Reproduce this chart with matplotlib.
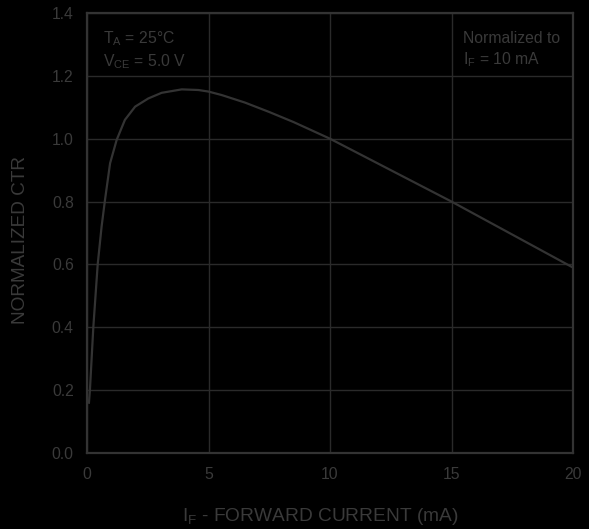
import matplotlib
matplotlib.use("Agg")
from matplotlib import pyplot as plt

# forward current (mA) and normalized CTR
current_ma = [0.08, 0.12, 0.26, 0.44, 0.6, 0.74, 0.95, 1.22, 1.56, 1.98, 2.52,
              3.07, 3.9, 4.58, 5.0, 5.54, 6.5, 7.5, 8.5, 10.0, 12.5, 15.0, 17.5, 20.0]
norm_ctr = [0.16, 0.2, 0.4, 0.6, 0.72, 0.805, 0.922, 0.996, 1.06, 1.102, 1.128,
            1.146, 1.157, 1.155, 1.15, 1.139, 1.115, 1.085, 1.053, 1.0, 0.9, 0.8, 0.695, 0.59]

x_ticks = [0, 5, 10, 15, 20]
y_ticks = [0.0, 0.2, 0.4, 0.6, 0.8, 1.0, 1.2, 1.4]

text_col = "#3a3a3a"
line_col = "#333333"
grid_col = "#2a2a2a"

plt.rcParams["font.family"] = ["Liberation Sans", "DejaVu Sans"]
plt.rcParams["mathtext.fontset"] = "custom"
plt.rcParams["mathtext.rm"] = "Liberation Sans"
plt.rcParams["mathtext.it"] = "Liberation Sans"

fig = plt.figure(figsize=(5.89, 5.29), dpi=100, facecolor="black")
ax = fig.add_axes([87 / 589, 1 - 453 / 529, 486 / 589, 440 / 529])
ax.set_facecolor("black")

ax.plot(current_ma, norm_ctr, color=line_col, linewidth=1.6)

ax.set_xlim(0, 20)
ax.set_ylim(0, 1.4)
ax.set_xticks(x_ticks)
ax.set_yticks(y_ticks)
ax.set_yticklabels(["%.1f" % v for v in y_ticks])
ax.tick_params(length=0, colors=text_col, labelsize=11.3, pad=10)
ax.tick_params(axis="y", pad=9.5)

ax.grid(True, color=grid_col, linewidth=1.0)
for s in ax.spines.values():
    s.set_color(line_col)
    s.set_linewidth(1.6)

ax.set_xlabel("I$_\\mathrm{F}$ - FORWARD CURRENT (mA)", color=text_col, fontsize=13.8)
ax.set_ylabel("NORMALIZED CTR", color=text_col, fontsize=13.7)
ax.xaxis.set_label_coords(0.479, -0.145)
ax.yaxis.set_label_coords(-0.136, 0.485)
ax.xaxis.label.set_va("center")
ax.yaxis.label.set_va("center")

ax.text(0.033, 0.962, "T$_\\mathrm{A}$ = 25°C\nV$_\\mathrm{CE}$ = 5.0 V", transform=ax.transAxes,
        color=text_col, fontsize=11.3, va="top", ha="left", linespacing=1.25)
ax.text(0.773, 0.958, "Normalized to\nI$_\\mathrm{F}$ = 10 mA", transform=ax.transAxes,
        color=text_col, fontsize=11.3, va="top", ha="left", linespacing=1.25)

plt.savefig("out.png", dpi=100, facecolor="black")
